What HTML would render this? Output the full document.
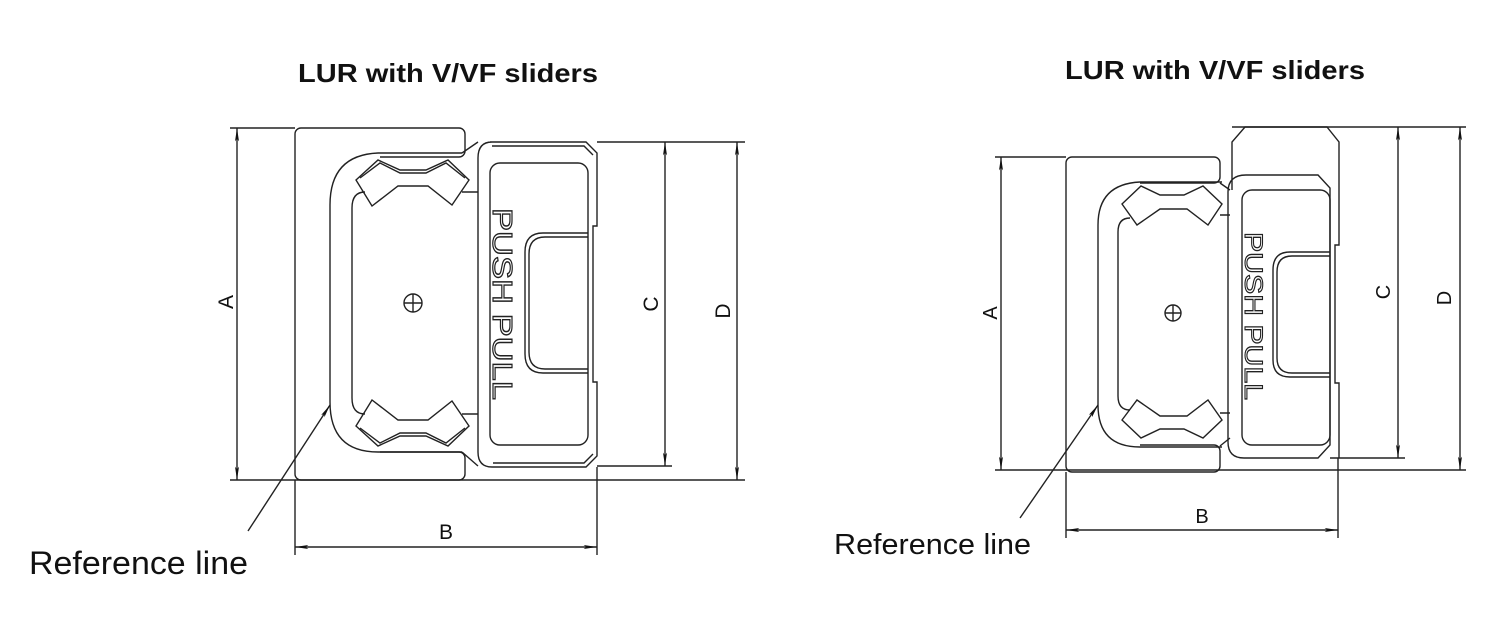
<!DOCTYPE html>
<html><head><meta charset="utf-8"><style>
html,body{margin:0;padding:0;background:#fff;}
svg{display:block;}
text{font-family:"Liberation Sans",sans-serif;}
</style></head><body>
<svg width="1509" height="620" viewBox="0 0 1509 620" xmlns="http://www.w3.org/2000/svg">
<defs>
<marker id="ar" viewBox="0 0 20 6" refX="20" refY="3" markerWidth="14" markerHeight="4" markerUnits="userSpaceOnUse" orient="auto-start-reverse">
<path d="M0,0 L20,3 L0,6 L4,3 Z" fill="#111"/>
</marker>
</defs>
<g fill="none" stroke="#222" stroke-width="1.4">
<!-- LEFT DRAWING -->
<text x="448" y="82" font-size="26" font-weight="bold" text-anchor="middle" fill="#111" stroke="none" textLength="300" lengthAdjust="spacingAndGlyphs">LUR with V/VF sliders</text>
<path d="M301,128 H459 a6,6 0 0 1 6,6 V151 a6,6 0 0 1 -6,6 H380 M380,452 H459 a6,6 0 0 1 6,6 V474 a6,6 0 0 1 -6,6 H301 a6,6 0 0 1 -6,-6 V134 a6,6 0 0 1 6,-6"/>
<path d="M378,153 Q330,155 330,205 V402 Q330,452 378,452 H462 M378,153 H462"/>
<path d="M365,192 Q352,192 352,208 V398 Q352,414 365,414"/>
<path d="M462,192 H478 M462,414 H478"/>
<path d="M462,153 L478,142 M462,452 L478,466"/>
<path d="M356,180 L378,160 L400,170 L426,170 L448,160 L469,180 L452,205 L428,186 L398,186 L372,206 Z"/>
<path d="M360,178 L380,163 L400,173 L426,173 L446,163 L465,178"/>
<path d="M356,426 L378,446 L400,436 L426,436 L448,446 L469,426 L452,401 L428,420 L398,420 L372,400 Z"/>
<path d="M360,428 L380,443 L400,433 L426,433 L446,443 L465,428"/>
<circle cx="413" cy="303" r="9"/>
<path d="M404,303 H422 M413,294 V312"/>
<path d="M490,142 H586 L597,153 V226 H593 V382 H597 V456 L586,467 H492 Q478,467 478,452 V158 Q478,142 492,142 Z"/>
<path d="M492,146 H584 L593,155 M493,463 H584 L593,454"/>
<rect x="490" y="163" width="98" height="282" rx="10"/>
<path d="M588,233 H543 Q525,233 525,252 V354 Q525,373 543,373 H588"/>
<path d="M588,237 H545 Q529,237 529,254 V352 Q529,369 545,369 H588"/>
<text transform="translate(493,208) rotate(90)" font-size="28" fill="#fff" stroke="#222" stroke-width="1.2" textLength="192" lengthAdjust="spacingAndGlyphs">PUSH PULL</text>
<path d="M230,128 H295 M230,480 H745 M597,142 H745 M597,466 H672 M295,480 V555 M597,467 V555"/>
<line x1="237" y1="128" x2="237" y2="480" marker-start="url(#ar)" marker-end="url(#ar)"/>
<line x1="665" y1="142" x2="665" y2="466" marker-start="url(#ar)" marker-end="url(#ar)"/>
<line x1="737" y1="142" x2="737" y2="480" marker-start="url(#ar)" marker-end="url(#ar)"/>
<line x1="295" y1="547" x2="597" y2="547" marker-start="url(#ar)" marker-end="url(#ar)"/>
<line x1="248" y1="531" x2="330" y2="405" marker-end="url(#ar)"/>
<text transform="translate(233,302) rotate(-90)" font-size="21" text-anchor="middle" fill="#111" stroke="none">A</text>
<text transform="translate(658,304) rotate(-90)" font-size="21" text-anchor="middle" fill="#111" stroke="none">C</text>
<text transform="translate(730,311) rotate(-90)" font-size="21" text-anchor="middle" fill="#111" stroke="none">D</text>
<text x="446" y="539" font-size="21" text-anchor="middle" fill="#111" stroke="none">B</text>
<text x="29" y="574" font-size="32" fill="#111" stroke="none" textLength="219" lengthAdjust="spacingAndGlyphs">Reference line</text>

<!-- RIGHT DRAWING -->
<text x="1215" y="79" font-size="26" font-weight="bold" text-anchor="middle" fill="#111" stroke="none" textLength="300" lengthAdjust="spacingAndGlyphs">LUR with V/VF sliders</text>
<path d="M1072,157 H1214 a6,6 0 0 1 6,6 V177 a6,6 0 0 1 -6,6 H1140 M1140,445 H1214 a6,6 0 0 1 6,6 V466 a6,6 0 0 1 -6,6 H1072 a6,6 0 0 1 -6,-6 V163 a6,6 0 0 1 6,-6"/>
<path d="M1140,182 Q1098,184 1098,225 V405 Q1098,447 1140,447 H1222 M1140,182 H1222"/>
<path d="M1130,218 Q1118,218 1118,232 V396 Q1118,410 1130,410"/>
<path d="M1220,215 H1230 M1220,413 H1230 M1220,183 L1230,190 M1220,446 L1230,438"/>
<path d="M1122,204 L1141,186 L1160,195 L1184,195 L1203,186 L1222,204 L1208,225 L1187,209 L1160,209 L1137,225 Z"/>
<path d="M1122,420 L1141,438 L1160,429 L1184,429 L1203,438 L1222,420 L1208,400 L1187,416 L1160,416 L1137,400 Z"/>
<circle cx="1173" cy="313" r="8"/>
<path d="M1165,313 H1181 M1173,305 V321"/>
<path d="M1232,190 V142 L1245,127 H1327 L1339,142 V245 H1335 V383 H1339 V458"/>
<path d="M1246,175 H1318 L1330,188 V445 L1318,458 H1244 Q1228,458 1228,442 V192 Q1228,175 1246,175 Z"/>
<rect x="1242" y="190" width="88" height="255" rx="10"/>
<path d="M1330,252 H1290 Q1273,252 1273,270 V360 Q1273,377 1290,377 H1330"/>
<path d="M1330,256 H1292 Q1277,256 1277,272 V358 Q1277,373 1292,373 H1330"/>
<text transform="translate(1245,232) rotate(90)" font-size="25" fill="#fff" stroke="#222" stroke-width="1.1" textLength="168" lengthAdjust="spacingAndGlyphs">PUSH PULL</text>
<path d="M995,157 H1066 M995,470 H1466 M1232,127 H1466 M1330,458 H1405 M1066,472 V538 M1338,458 V538"/>
<line x1="1001" y1="157" x2="1001" y2="470" marker-start="url(#ar)" marker-end="url(#ar)"/>
<line x1="1398" y1="127" x2="1398" y2="458" marker-start="url(#ar)" marker-end="url(#ar)"/>
<line x1="1460" y1="127" x2="1460" y2="470" marker-start="url(#ar)" marker-end="url(#ar)"/>
<line x1="1066" y1="530" x2="1338" y2="530" marker-start="url(#ar)" marker-end="url(#ar)"/>
<line x1="1020" y1="518" x2="1098" y2="405" marker-end="url(#ar)"/>
<text transform="translate(997,313) rotate(-90)" font-size="20" text-anchor="middle" fill="#111" stroke="none">A</text>
<text transform="translate(1390,292) rotate(-90)" font-size="20" text-anchor="middle" fill="#111" stroke="none">C</text>
<text transform="translate(1451,298) rotate(-90)" font-size="20" text-anchor="middle" fill="#111" stroke="none">D</text>
<text x="1202" y="523" font-size="20" text-anchor="middle" fill="#111" stroke="none">B</text>
<text x="834" y="554" font-size="29" fill="#111" stroke="none" textLength="197" lengthAdjust="spacingAndGlyphs">Reference line</text>
</g>
</svg>
</body></html>
